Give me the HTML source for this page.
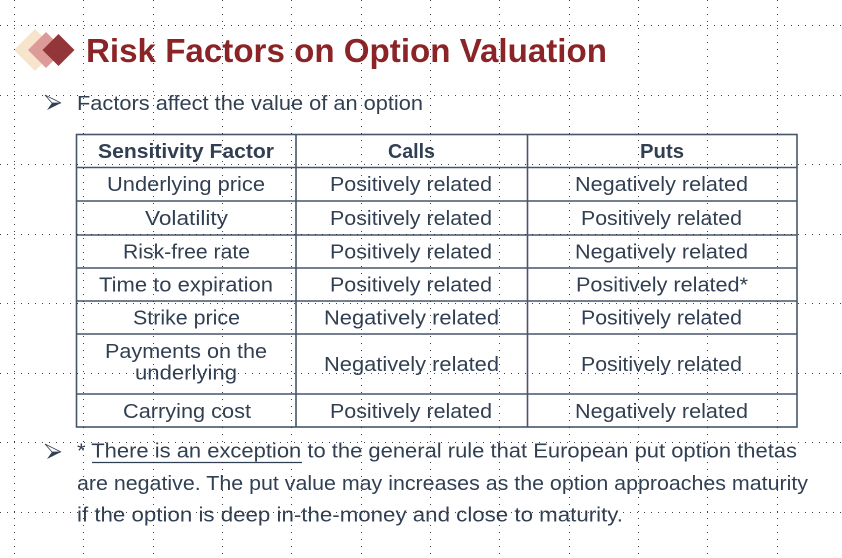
<!DOCTYPE html>
<html><head><meta charset="utf-8"><style>
html,body{margin:0;padding:0;background:#fff;}
svg{display:block;}
text{font-family:"Liberation Sans",sans-serif;fill:#313F52;}
</style></head><body>
<svg width="842" height="558" viewBox="0 0 842 558" xmlns="http://www.w3.org/2000/svg">
<rect width="842" height="558" fill="#fff"/>
<!-- diamonds -->
<polygon points="14,50 35,29 56,50 35,71" fill="#F7E4CC"/>
<polygon points="28,50 46,32 64,50 46,68" fill="#DC9A98"/>
<polygon points="42.5,50 58.5,34 74.5,50 58.5,66" fill="#93363A"/>
<!-- title -->
<text x="86" y="62" font-size="33" font-weight="bold" textLength="521" lengthAdjust="spacingAndGlyphs" style="fill:#8B2427">Risk Factors on Option Valuation</text>
<!-- bullet 1 -->
<polygon points="45,95 61,103 52,103" fill="#fff" stroke="#313F52" stroke-width="0.8"/>
<polygon points="52,103 61,103 47,110" fill="#313F52"/>
<text x="77" y="110" font-size="20.5" textLength="346" lengthAdjust="spacingAndGlyphs">Factors affect the value of an option</text>
<!-- table lines -->
<g stroke="#46566A" stroke-width="1.6" fill="none">
<rect x="76.5" y="134.5" width="720.5" height="292.5"/>
<line x1="296" y1="134" x2="296" y2="427"/>
<line x1="527.5" y1="134" x2="527.5" y2="427"/>
<line x1="76" y1="167.5" x2="797" y2="167.5"/>
<line x1="76" y1="201" x2="797" y2="201"/>
<line x1="76" y1="235" x2="797" y2="235"/>
<line x1="76" y1="268" x2="797" y2="268"/>
<line x1="76" y1="301" x2="797" y2="301"/>
<line x1="76" y1="334" x2="797" y2="334"/>
<line x1="76" y1="394" x2="797" y2="394"/>
</g>
<g font-size="20" text-anchor="middle">
<text x="186" y="158" font-weight="bold" textLength="176" lengthAdjust="spacingAndGlyphs">Sensitivity Factor</text>
<text x="411.5" y="158" font-weight="bold" textLength="47" lengthAdjust="spacingAndGlyphs">Calls</text>
<text x="662" y="158" font-weight="bold" textLength="44" lengthAdjust="spacingAndGlyphs">Puts</text>

<text x="186" y="191" textLength="158" lengthAdjust="spacingAndGlyphs">Underlying price</text>
<text x="411" y="191" textLength="162" lengthAdjust="spacingAndGlyphs">Positively related</text>
<text x="661.5" y="191" textLength="173" lengthAdjust="spacingAndGlyphs">Negatively related</text>

<text x="186.5" y="225" textLength="83" lengthAdjust="spacingAndGlyphs">Volatility</text>
<text x="411" y="225" textLength="162" lengthAdjust="spacingAndGlyphs">Positively related</text>
<text x="661.5" y="225" textLength="161" lengthAdjust="spacingAndGlyphs">Positively related</text>

<text x="186.5" y="258.5" textLength="127" lengthAdjust="spacingAndGlyphs">Risk-free rate</text>
<text x="411" y="258.5" textLength="162" lengthAdjust="spacingAndGlyphs">Positively related</text>
<text x="661.5" y="258.5" textLength="173" lengthAdjust="spacingAndGlyphs">Negatively related</text>

<text x="186" y="291.5" textLength="174" lengthAdjust="spacingAndGlyphs">Time to expiration</text>
<text x="411" y="291.5" textLength="162" lengthAdjust="spacingAndGlyphs">Positively related</text>
<text x="662" y="291.5" textLength="172" lengthAdjust="spacingAndGlyphs">Positively related*</text>

<text x="186.5" y="324.5" textLength="107" lengthAdjust="spacingAndGlyphs">Strike price</text>
<text x="411.5" y="324.5" textLength="175" lengthAdjust="spacingAndGlyphs">Negatively related</text>
<text x="661.5" y="324.5" textLength="161" lengthAdjust="spacingAndGlyphs">Positively related</text>

<text x="186" y="358" textLength="162" lengthAdjust="spacingAndGlyphs">Payments on the</text>
<text x="186" y="379.5" textLength="102" lengthAdjust="spacingAndGlyphs">underlying</text>
<text x="411.5" y="371" textLength="175" lengthAdjust="spacingAndGlyphs">Negatively related</text>
<text x="661.5" y="371" textLength="161" lengthAdjust="spacingAndGlyphs">Positively related</text>

<text x="187" y="418" textLength="128" lengthAdjust="spacingAndGlyphs">Carrying cost</text>
<text x="411" y="418" textLength="162" lengthAdjust="spacingAndGlyphs">Positively related</text>
<text x="661.5" y="418" textLength="173" lengthAdjust="spacingAndGlyphs">Negatively related</text>
</g>
<!-- bullet 2 -->
<polygon points="45,444 61,452 52,452" fill="#fff" stroke="#313F52" stroke-width="0.8"/>
<polygon points="52,452 61,452 47,459" fill="#313F52"/>
<g font-size="20">
<text x="77" y="457.5" textLength="720" lengthAdjust="spacingAndGlyphs">* There is an exception to the general rule that European put option thetas</text>
<text x="77" y="490" textLength="731" lengthAdjust="spacingAndGlyphs">are negative. The put value may increases as the option approaches maturity</text>
<text x="77" y="521.5" textLength="546" lengthAdjust="spacingAndGlyphs">if the option is deep in-the-money and close to maturity.</text>
</g>
<line x1="92" y1="462.5" x2="302" y2="462.5" stroke="#313F52" stroke-width="1.2"/>
<!-- grid -->
<g stroke="#222" stroke-width="1" stroke-dasharray="1 6" opacity="0.85">
<line x1="14.5" y1="0" x2="14.5" y2="558"/>
<line x1="83.5" y1="0" x2="83.5" y2="558"/>
<line x1="153.5" y1="0" x2="153.5" y2="558"/>
<line x1="222.5" y1="0" x2="222.5" y2="558"/>
<line x1="291.5" y1="0" x2="291.5" y2="558"/>
<line x1="361.5" y1="0" x2="361.5" y2="558"/>
<line x1="430.5" y1="0" x2="430.5" y2="558"/>
<line x1="499.5" y1="0" x2="499.5" y2="558"/>
<line x1="569.5" y1="0" x2="569.5" y2="558"/>
<line x1="638.5" y1="0" x2="638.5" y2="558"/>
<line x1="707.5" y1="0" x2="707.5" y2="558"/>
<line x1="777.5" y1="0" x2="777.5" y2="558"/>
<line x1="0" y1="25.5" x2="842" y2="25.5"/>
<line x1="0" y1="95.5" x2="842" y2="95.5"/>
<line x1="0" y1="164.5" x2="842" y2="164.5"/>
<line x1="0" y1="234.5" x2="842" y2="234.5"/>
<line x1="0" y1="303.5" x2="842" y2="303.5"/>
<line x1="0" y1="373.5" x2="842" y2="373.5"/>
<line x1="0" y1="442.5" x2="842" y2="442.5"/>
<line x1="0" y1="512.5" x2="842" y2="512.5"/>
</g>
</svg>
</body></html>
